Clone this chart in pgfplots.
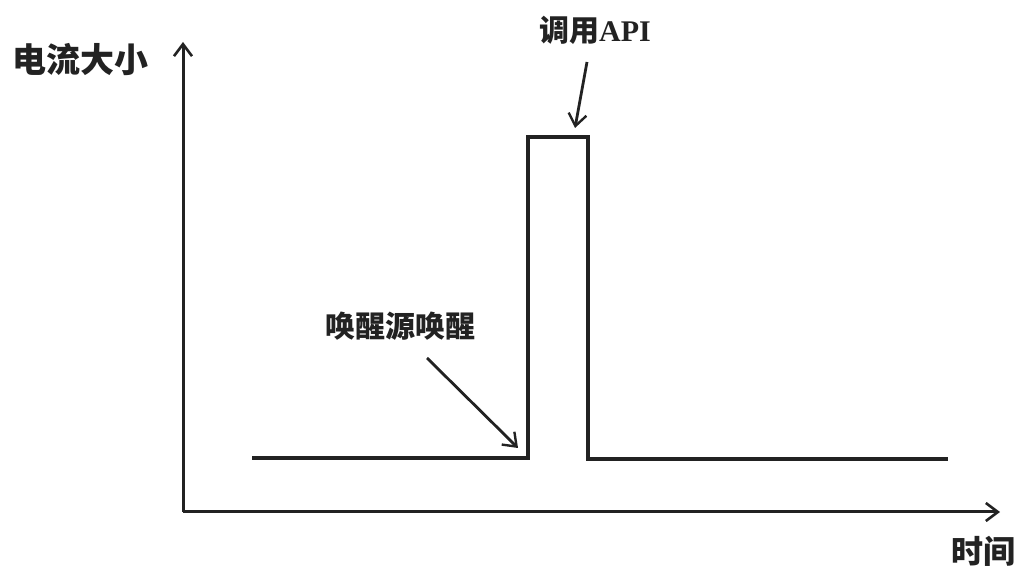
\documentclass[border=0pt]{standalone}
\usepackage{fontspec}
\setmainfont{Liberation Serif}
\newfontfamily\cjk{Noto Sans CJK SC}
\usepackage{pgfplots}
\pgfplotsset{compat=1.18}
\usetikzlibrary{arrows.meta}
\definecolor{ink}{HTML}{222222}

\begin{document}
\begin{tikzpicture}
\begin{axis}[
    name=ax,
    scale only axis,
    width=510.5pt, height=285.5pt,
    xmin=0, xmax=1021, ymin=0, ymax=571,
    hide axis,
    clip=false,
]
% axes with arrows
\addplot[ink, line width=1.5pt, -{Straight Barb[length=6pt,width=9pt,line width=1.3pt]}]
    coordinates {(183,59) (183,529)};
\addplot[ink, line width=1.5pt, -{Straight Barb[length=6pt,width=9pt,line width=1.3pt]}]
    coordinates {(183,59) (1000,59)};
% current curve
\addplot[ink, line width=2pt, line join=miter]
    coordinates {(252,113) (528,113) (528,434) (588,434) (588,112) (948,112)};
% annotation arrows
\addplot[ink, line width=1.4pt, -{Straight Barb[length=6pt,width=9pt,line width=1.2pt]}]
    coordinates {(427,213) (518,123)};
\addplot[ink, line width=1.4pt, -{Straight Barb[length=6pt,width=9pt,line width=1.2pt]}]
    coordinates {(587,509) (575,443)};
% labels
\node[ink, inner sep=0pt, font=\cjk\bfseries\fontsize{17pt}{19pt}\selectfont] at (axis cs:80,511) {电流大小};
\node[ink, inner sep=0pt, font=\cjk\bfseries\fontsize{16pt}{18pt}\selectfont] at (axis cs:983,20) {时间};
\node[ink, inner sep=0pt, font=\cjk\bfseries\fontsize{15pt}{17pt}\selectfont] at (axis cs:400,245) {唤醒源唤醒};
\node[ink, inner sep=0pt, font=\bfseries\fontsize{15pt}{17pt}\selectfont] at (axis cs:595,541) {{\cjk 调用}API};
\end{axis}
\pgfresetboundingbox
\useasboundingbox (ax.south west) rectangle (ax.north east);
\end{tikzpicture}
\end{document}
